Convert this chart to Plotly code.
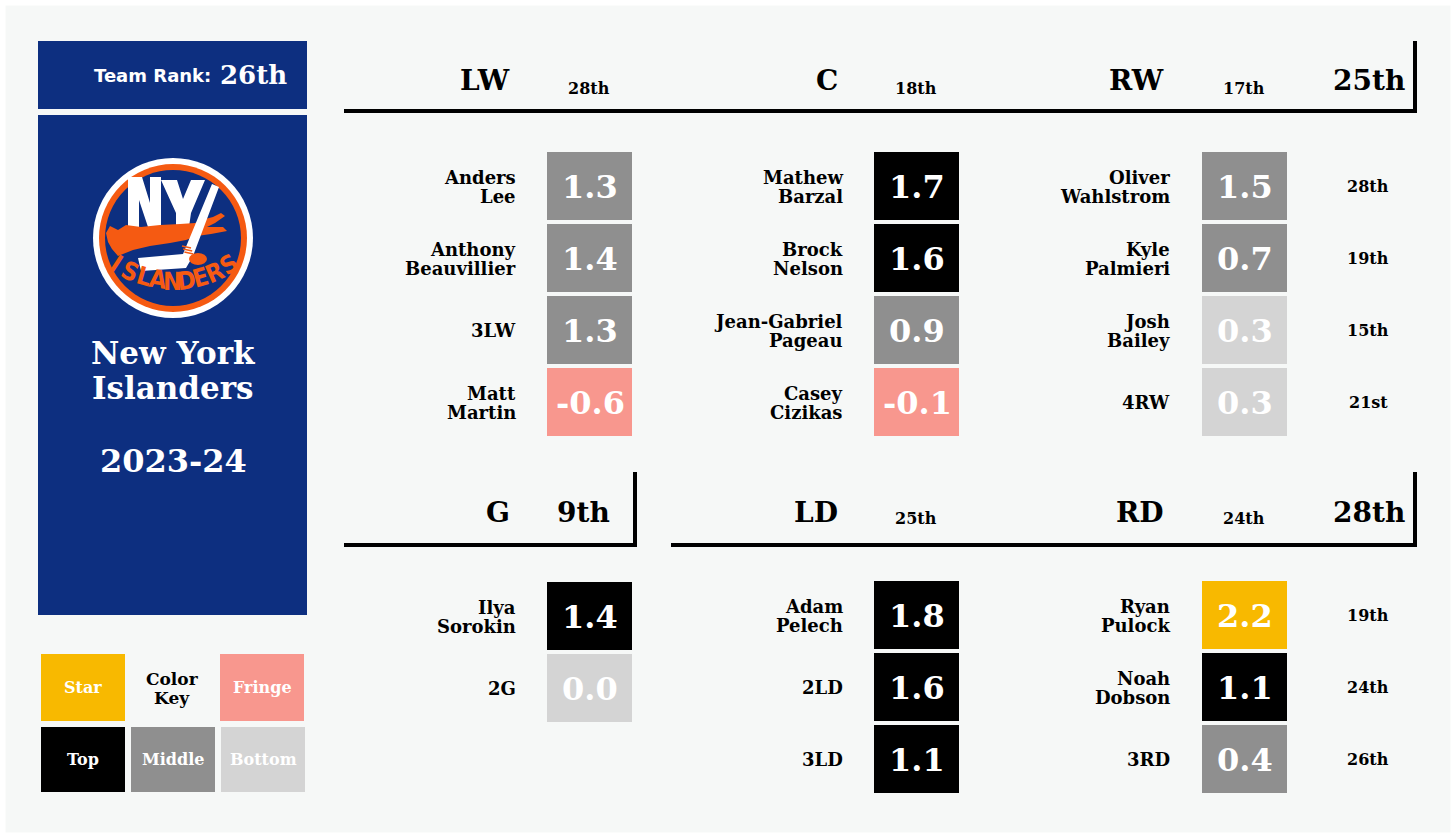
import math
import plotly.graph_objects as go

# ---- data ----
TEAM = ["New York", "Islanders"]
SEASON = "2023-24"
TEAM_RANK = "26th"

LW_PLAYERS = ["Anders Lee", "Anthony Beauvillier", "3LW", "Matt Martin"]
LW_VALUES = [1.3, 1.4, 1.3, -0.6]
LW_TIERS = ["Middle", "Middle", "Middle", "Fringe"]

C_PLAYERS = ["Mathew Barzal", "Brock Nelson", "Jean-Gabriel Pageau", "Casey Cizikas"]
C_VALUES = [1.7, 1.6, 0.9, -0.1]
C_TIERS = ["Top", "Top", "Middle", "Fringe"]

RW_PLAYERS = ["Oliver Wahlstrom", "Kyle Palmieri", "Josh Bailey", "4RW"]
RW_VALUES = [1.5, 0.7, 0.3, 0.3]
RW_TIERS = ["Middle", "Middle", "Bottom", "Bottom"]
RW_RANKS = ["28th", "19th", "15th", "21st"]

G_PLAYERS = ["Ilya Sorokin", "2G"]
G_VALUES = [1.4, 0.0]
G_TIERS = ["Top", "Bottom"]

LD_PLAYERS = ["Adam Pelech", "2LD", "3LD"]
LD_VALUES = [1.8, 1.6, 1.1]
LD_TIERS = ["Top", "Top", "Top"]

RD_PLAYERS = ["Ryan Pulock", "Noah Dobson", "3RD"]
RD_VALUES = [2.2, 1.1, 0.4]
RD_TIERS = ["Star", "Top", "Middle"]
RD_RANKS = ["19th", "24th", "26th"]

POS_RANKS = {"LW": "28th", "C": "18th", "RW": "17th", "LD": "25th", "RD": "24th"}
GROUP_RANKS = {"F": "25th", "G": "9th", "D": "28th"}

KEY_LABELS = ["Star", "Fringe", "Top", "Middle", "Bottom"]

TIER_COLORS = {"Star": "#f8b900", "Top": "#000000", "Middle": "#8f8f8f",
               "Bottom": "#d4d4d4", "Fringe": "#f8978e"}

BLUE = "#0d2f80"
ORANGE = "#f55a12"
BG = "#f6f8f7"
FONT = "DejaVu Serif"

shapes = []
annotations = []


def rect(x0, y0, x1, y1, color, line=None):
    shapes.append(dict(type="rect", xref="x", yref="y", x0=x0, y0=y0, x1=x1, y1=y1,
                       fillcolor=color, line=dict(width=0) if line is None else line,
                       layer="below"))


def poly(path, color):
    shapes.append(dict(type="path", xref="x", yref="y", path=path, fillcolor=color,
                       line=dict(width=0)))


def text(x, y, s, size, color="black", xanchor="center", angle=0, family=FONT):
    annotations.append(dict(x=x, y=y, xref="x", yref="y", text=s, showarrow=False,
                            xanchor=xanchor, yanchor="middle", textangle=angle,
                            font=dict(family=family, size=size, color=color, weight="bold")))


def player_column(players, values, tiers, name_right, box_x0, top, ranks=None):
    for i, (p, v, t) in enumerate(zip(players, values, tiers)):
        y0 = top + i * 72
        yc = y0 + 34
        rect(box_x0, y0, box_x0 + 85, y0 + 68, TIER_COLORS[t])
        text(box_x0 + 43, yc + 1, f"{v:.1f}", 32, "white")
        parts = p.split(" ", 1)
        if len(parts) == 2:
            text(name_right, yc - 9, parts[0], 18, xanchor="right")
            text(name_right, yc + 10, parts[1], 18, xanchor="right")
        else:
            text(name_right, yc, p, 18, xanchor="right")
        if ranks:
            text(1368, yc, ranks[i], 16)


def bracket(x0, x1, y_line, y_top):
    shapes.append(dict(type="line", xref="x", yref="y", x0=x0, x1=x1, y0=y_line, y1=y_line,
                       line=dict(color="black", width=4)))
    shapes.append(dict(type="line", xref="x", yref="y", x0=x1 - 2, x1=x1 - 2, y0=y_top, y1=y_line + 2,
                       line=dict(color="black", width=4)))


# ---- left panel ----
rect(38, 41, 307, 109, BLUE)
rect(38, 115, 307, 615, BLUE)
text(213, 75, "Team Rank:", 18, "white", xanchor="right", family="DejaVu Sans")
text(253, 75, TEAM_RANK, 26, "white")

# logo
cx, cy = 173, 238
for r, col in [(80, "white"), (74, ORANGE), (68, BLUE)]:
    shapes.append(dict(type="circle", xref="x", yref="y", x0=cx - r, x1=cx + r, y0=cy - r, y1=cy + r,
                       fillcolor=col, line=dict(width=0)))
# N and Y
poly("M128,227 L128,177 L142,177 L150,203 L150,177 L161,177 L161,227 L148,227 L139,200 L139,227 Z", "white")
poly("M161,180 L177,180 L183,199 L191,180 L205,180 L191,213 L189,227 L176,227 L176,213 Z", "white")
# island
poly("M106,233 L110,226 L118,230 L126,225 L141,227 L160,225 L180,224 L195,223 L205,219 L213,217 "
     "L221,213 L225,216 L215,223 L207,227 L223,227 L227,231 L211,234 L197,236 L186,240 L170,243 "
     "L150,246 L133,250 L118,256 L112,249 L108,242 Z", ORANGE)
# stick
poly("M212,184 L219,187 L193,256 L186,268 L141,271 L138,258 L183,254 Z", "white")
for k in range(3):
    shapes.append(dict(type="line", xref="x", yref="y", x0=182 + k * 1.2, x1=191 + k * 1.2,
                       y0=246 + k * 3, y1=248 + k * 3, line=dict(color=ORANGE, width=1.5)))
shapes.append(dict(type="circle", xref="x", yref="y", x0=189, x1=207, y0=253, y1=265,
                   fillcolor=ORANGE, line=dict(width=0)))
letters = "ISLANDERS"
for i, ch in enumerate(letters):
    dx = -57 + i * 14.1
    ang = math.asin(dx / 104)
    lx = 173 + 104 * math.sin(ang)
    ly = 177 + 104 * math.cos(ang)
    text(lx, ly, ch, 25, ORANGE, angle=-math.degrees(ang), family="DejaVu Sans Condensed")

text(173, 353, TEAM[0], 31, "white")
text(173, 388, TEAM[1], 31, "white")
text(173, 461, SEASON, 32, "white")

# color key
key_boxes = [(41, 654, 125, 721), (220, 654, 304, 721),
             (41, 727, 125, 792), (131, 727, 215, 792), (221, 727, 305, 792)]
for lbl, (x0, y0, x1, y1) in zip(KEY_LABELS, key_boxes):
    rect(x0, y0, x1, y1, TIER_COLORS[lbl])
    text((x0 + x1) / 2, (y0 + y1) / 2, lbl, 16, "white")
text(172, 679, "Color", 17)
text(172, 698, "Key", 17)

# ---- forwards ----
bracket(344, 1417, 111, 41)
for pos, right, cxr in [("LW", 512, 589), ("C", 840, 916), ("RW", 1166, 1244)]:
    text(right, 80, pos, 28, xanchor="right")
    text(cxr, 88, POS_RANKS[pos], 16)
text(1369, 80, GROUP_RANKS["F"], 28)

player_column(LW_PLAYERS, LW_VALUES, LW_TIERS, 518, 547, 152)
player_column(C_PLAYERS, C_VALUES, C_TIERS, 845, 874, 152)
player_column(RW_PLAYERS, RW_VALUES, RW_TIERS, 1172, 1202, 152, RW_RANKS)

# ---- goalies ----
bracket(344, 637, 545, 472)
text(512, 512, "G", 28, xanchor="right")
text(583, 512, GROUP_RANKS["G"], 28)
player_column(G_PLAYERS, G_VALUES, G_TIERS, 518, 547, 582)

# ---- defence ----
bracket(671, 1417, 545, 472)
for pos, right, cxr in [("LD", 840, 916), ("RD", 1166, 1244)]:
    text(right, 512, pos, 28, xanchor="right")
    text(cxr, 518, POS_RANKS[pos], 16)
text(1369, 512, GROUP_RANKS["D"], 28)
player_column(LD_PLAYERS, LD_VALUES, LD_TIERS, 845, 874, 581)
player_column(RD_PLAYERS, RD_VALUES, RD_TIERS, 1172, 1202, 581, RD_RANKS)

# outer white frame
shapes.append(dict(type="rect", xref="x", yref="y", x0=0, y0=0, x1=1456, y1=838,
                   line=dict(color="white", width=11), fillcolor="rgba(0,0,0,0)"))

fig = go.Figure()
fig.update_layout(
    width=1456, height=838,
    margin=dict(l=0, r=0, t=0, b=0),
    paper_bgcolor=BG, plot_bgcolor=BG,
    shapes=shapes, annotations=annotations,
    showlegend=False,
)
fig.update_xaxes(range=[0, 1456], visible=False, fixedrange=True)
fig.update_yaxes(range=[838, 0], visible=False, fixedrange=True)

# drop the default page margin so the picture sits at the window origin
fig.write_html("out.html", config={"displayModeBar": False},
               post_script="document.body.style.margin='0';document.body.style.overflow='hidden';")
